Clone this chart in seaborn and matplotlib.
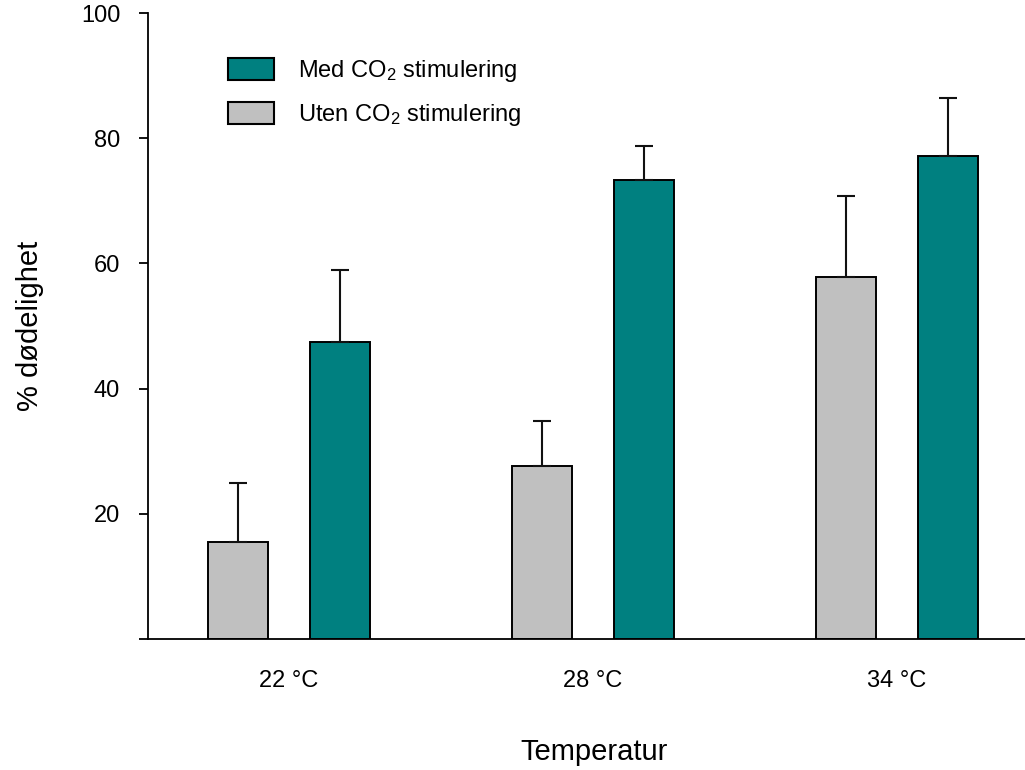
import matplotlib
matplotlib.use("Agg")
import matplotlib.pyplot as plt
import seaborn as sns
import pandas as pd
import numpy as np

# Mortality (%) per temperature, with and without CO2 stimulation
temperatures = ["22 °C", "28 °C", "34 °C"]
uten_mean = [15.5, 27.6, 57.9]
uten_err = [9.4, 7.2, 12.9]
med_mean = [47.5, 73.4, 77.2]
med_err = [11.4, 5.4, 9.2]

series_uten = "Uten CO$_2$ stimulering"
series_med = "Med CO$_2$ stimulering"
yticks = [0, 20, 40, 60, 80, 100]
ytick_labels = ["", "20", "40", "60", "80", "100"]

sns.set_style("white")
plt.rcParams["font.family"] = ["Liberation Sans", "DejaVu Sans"]
plt.rcParams["mathtext.fontset"] = "custom"
plt.rcParams["mathtext.rm"] = "Liberation Sans"
plt.rcParams["mathtext.default"] = "regular"
plt.rcParams["text.color"] = "black"
plt.rcParams["axes.labelcolor"] = "black"
plt.rcParams["xtick.color"] = "black"
plt.rcParams["ytick.color"] = "black"

df = pd.DataFrame({
    "Temperatur": temperatures * 2,
    "Dodelighet": uten_mean + med_mean,
    "Gruppe": [series_uten] * 3 + [series_med] * 3,
})
errors = {series_uten: uten_err, series_med: med_err}
colors = {series_uten: "#c0c0c0", series_med: "#008080"}

fig = plt.figure(figsize=(10.25, 7.70), dpi=100)
W, H = 1025, 770
ax = fig.add_axes([148 / W, 1 - 639 / H, 877 / W, 626 / H])

sns.barplot(
    data=df, x="Temperatur", y="Dodelighet", hue="Gruppe",
    hue_order=[series_uten, series_med],
    palette=[colors[series_uten], colors[series_med]],
    width=0.671, gap=0.41, errorbar=None,
    edgecolor="black", linewidth=1.4, saturation=1,
    legend=False, ax=ax,
)
bar_containers = list(ax.containers)

# Upper-only error bars on top of each bar
for cont, name in zip(bar_containers, [series_uten, series_med]):
    xs = [p.get_x() + p.get_width() / 2 for p in cont.patches]
    ys = [p.get_height() for p in cont.patches]
    err = errors[name]
    ax.errorbar(xs, ys, yerr=[np.zeros(len(err)), err], fmt="none",
                ecolor="#111111", elinewidth=1.5, capsize=6.5, capthick=1.5,
                zorder=1)

ax.set_xlim((148 - 289) / 304, (1025 - 289) / 304)
ax.set_ylim(0, 100)
ax.set_yticks(yticks)
ax.set_yticklabels(ytick_labels)

for s in ["top", "right"]:
    ax.spines[s].set_visible(False)
for s in ["left", "bottom"]:
    ax.spines[s].set_color("black")
    ax.spines[s].set_linewidth(1.3)

ax.tick_params(axis="y", direction="out", length=6.5, width=1.3,
               color="black", pad=13.5, labelsize=17, left=True)
ax.tick_params(axis="x", length=0, pad=22, labelsize=17)

ax.set_xlabel("Temperatur", fontsize=21)
ax.set_ylabel("% dødelighet", fontsize=21)
ax.xaxis.set_label_coords(0.5086, -0.158)
ax.yaxis.set_label_coords(-0.1186, 0.5)

labels = [series_med, series_uten]
leg_handles = [plt.Rectangle((0, 0), 1, 1, facecolor=colors[n],
                             edgecolor="black", linewidth=1.5) for n in labels]
fig.legend(leg_handles, labels, loc="upper left",
           bbox_to_anchor=(228 / W, 1 - 58 / H), bbox_transform=fig.transFigure,
           frameon=False, fontsize=17, handlelength=1.95, handleheight=1.06,
           handletextpad=1.0, labelspacing=0.75, borderpad=0, borderaxespad=0)

fig.savefig("out.png", dpi=100)
